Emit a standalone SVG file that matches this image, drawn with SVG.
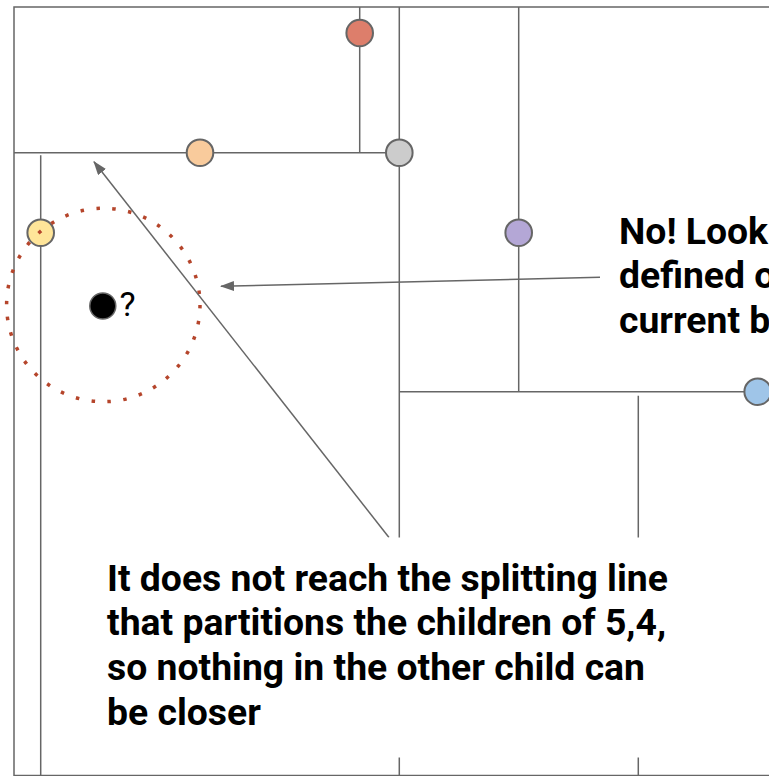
<svg xmlns="http://www.w3.org/2000/svg" width="769" height="776" viewBox="0 0 769 776">
  <style>
    .ln { stroke: #666666; stroke-width: 1.5; fill: none; }
    .pt { stroke: #666666; stroke-width: 2; }
    .arr { stroke: #666666; stroke-width: 1.5; fill: none; marker-end: url(#ah); }
    .lbl { font-family: Roboto, "Liberation Sans", sans-serif; font-weight: bold; font-size: 37.33px; fill: #000000; }
    .q { font-family: Roboto, "Liberation Sans", sans-serif; font-size: 34px; fill: #000000; }
  </style>
  <defs>
    <marker id="ah" viewBox="0 0 14 10" refX="13" refY="5" markerWidth="14" markerHeight="10" markerUnits="userSpaceOnUse" orient="auto">
      <path d="M0,0 L14,5 L0,10 z" fill="#666666"/>
    </marker>
  </defs>
  <rect width="769" height="776" fill="#ffffff"/>

  <g id="partitions">
    <rect class="ln" x="14" y="7" width="800" height="768.5"/>
    <line class="ln" x1="14" y1="152.7" x2="399.3" y2="152.7"/>
    <line class="ln" x1="359.7" y1="7" x2="359.7" y2="152.7"/>
    <line class="ln" x1="399.3" y1="7" x2="399.3" y2="775.5"/>
    <line class="ln" x1="40.7" y1="155.3" x2="40.7" y2="775.5"/>
    <line class="ln" x1="518.7" y1="7" x2="518.7" y2="391.7"/>
    <line class="ln" x1="399.3" y1="391.7" x2="780" y2="391.7"/>
    <line class="ln" x1="638.3" y1="395.7" x2="638.3" y2="775.5"/>
  </g>

  <g id="node-red"><circle class="pt" cx="359.7" cy="33" r="13.3" fill="#dd7e6b"/></g>
  <g id="node-orange"><circle class="pt" cx="200" cy="152.7" r="13.3" fill="#f9cb9c"/></g>
  <g id="node-gray"><circle class="pt" cx="399.3" cy="152.7" r="13.3" fill="#cccccc"/></g>
  <g id="node-yellow"><circle class="pt" cx="40.7" cy="232.7" r="13.3" fill="#ffe599"/></g>
  <g id="node-purple"><circle class="pt" cx="518.7" cy="232.7" r="13.3" fill="#b4a7d6"/></g>
  <g id="node-blue"><circle class="pt" cx="757.7" cy="391.7" r="13.3" fill="#9fc5e8"/></g>

  <g id="query">
    <circle cx="102.8" cy="306" r="13" fill="#000000" stroke="#666666" stroke-width="1.5"/>
    <text class="q" x="119.5" y="316">?</text>
  </g>

  <g id="search-radius">
    <circle cx="103.3" cy="305" r="96.7" fill="none" stroke="#b5452b" stroke-width="3.5" stroke-dasharray="3.5 12.5"/>
  </g>

  <g id="connectors">
    <line class="arr" x1="389" y1="537.5" x2="94" y2="161.8"/>
    <line class="arr" x1="600" y1="277.3" x2="221" y2="286.3"/>
  </g>

  <g id="note-right">
    <text class="lbl" x="619" y="243.5">No! Look</text>
    <text class="lbl" x="619" y="288">defined o</text>
    <text class="lbl" x="619" y="332.5">current b</text>
  </g>

  <g id="note-bottom">
    <rect x="95" y="537.5" width="605" height="220" fill="#ffffff"/>
    <text class="lbl" x="107" y="590.7">It does not reach the splitting line</text>
    <text class="lbl" x="107" y="635.3">that partitions the children of 5,4,</text>
    <text class="lbl" x="107" y="680">so nothing in the other child can</text>
    <text class="lbl" x="107" y="724.7">be closer</text>
  </g>
</svg>
